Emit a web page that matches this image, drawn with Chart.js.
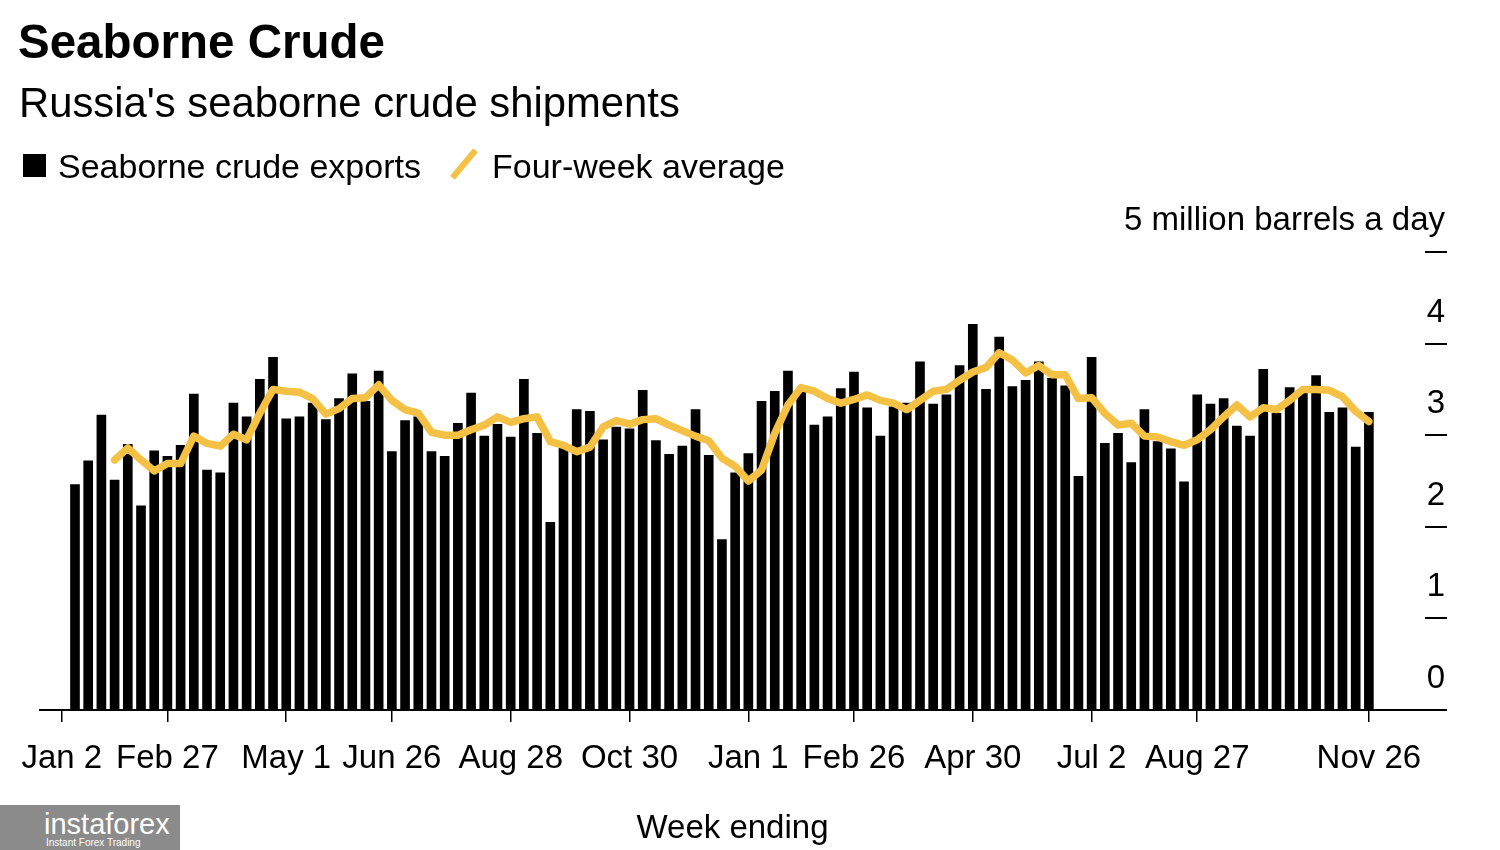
<!DOCTYPE html>
<html>
<head>
<meta charset="utf-8">
<title>Seaborne Crude</title>
<script src="https://cdn.jsdelivr.net/npm/chart.js@4.4.0/dist/chart.umd.min.js"></script>
<style>
    body { margin: 0; background: #fff; color: #000; font-family: "Liberation Sans", Arial, sans-serif; }
    #wrap { position: relative; width: 1500px; height: 850px; overflow: hidden; }
    #chart-box { position: absolute; left: 0; top: 0; width: 1500px; height: 850px; }
    .txt { position: absolute; line-height: 1; white-space: nowrap; }
    .title { left: 18px; top: 18px; font-size: 47.5px; font-weight: bold; }
    .subtitle { left: 19px; top: 82px; font-size: 41.8px; }
    .legend-text { top: 149px; font-size: 34px; }
    .swatch-bar { position: absolute; left: 23px; top: 154px; width: 23px; height: 23px; background: #000; }
    .swatch-line { position: absolute; left: 461px; top: 146px; width: 6px; height: 36px; background: #f4c144; transform: rotate(40deg); }
    .badge { position: absolute; left: 0; top: 805px; width: 180px; height: 45px; background: #8b8b8b; color: #fff; }
    .badge .big { position: absolute; left: 44px; top: 5px; font-size: 29px; line-height: 1; }
    .badge .small { position: absolute; left: 46px; top: 33px; font-size: 10px; line-height: 1; }
</style>
</head>
<body>
<div id="wrap">
    <div id="chart-box"><canvas id="myChart" width="1500" height="850"></canvas></div>
    <div class="txt title">Seaborne Crude</div>
    <div class="txt subtitle">Russia's seaborne crude shipments</div>
    <div class="swatch-bar"></div>
    <div class="txt legend-text" style="left:58px">Seaborne crude exports</div>
    <div class="swatch-line"></div>
    <div class="txt legend-text" style="left:492px">Four-week average</div>
    <div class="badge"><span class="big">instaforex</span><span class="small">Instant Forex Trading</span></div>
</div>
<script>
// x is the week number counted from the week ending Jan 2, 2022
const tickWeeks = [0, 8, 17, 25, 34, 43, 52, 60, 69, 78, 86, 99];
const tickLabels = ["Jan 2", "Feb 27", "May 1", "Jun 26", "Aug 28", "Oct 30",
    "Jan 1", "Feb 26", "Apr 30", "Jul 2", "Aug 27", "Nov 26"];

// seaborne crude exports, million barrels a day, weeks 1..99
const firstBarWeek = 1;
const exportsMbd = [
    2.46, 2.72, 3.22, 2.51, 2.90, 2.23, 2.83, 2.77, 2.89, 3.45,
    2.62, 2.59, 3.35, 3.20, 3.61, 3.85, 3.18, 3.20, 3.35, 3.17,
    3.40, 3.67, 3.37, 3.70, 2.82, 3.16, 3.20, 2.82, 2.77, 3.13,
    3.46, 2.99, 3.12, 2.98, 3.61, 3.02, 2.05, 2.86, 3.28, 3.26,
    2.95, 3.09, 3.07, 3.49, 2.94, 2.79, 2.88, 3.28, 2.78, 1.86,
    2.59, 2.80, 3.37, 3.48, 3.70, 3.50, 3.11, 3.20, 3.51, 3.69,
    3.30, 2.99, 3.31, 3.35, 3.80, 3.34, 3.44, 3.76, 4.21, 3.50,
    4.07, 3.53, 3.60, 3.80, 3.62, 3.54, 2.55, 3.85, 2.91, 3.02,
    2.70, 3.28, 2.93, 2.85, 2.49, 3.44, 3.34, 3.40, 3.10, 2.99,
    3.72, 3.24, 3.52, 3.49, 3.65, 3.25, 3.30, 2.87, 3.25
];

// four-week average, weeks 4..99
const firstAvgWeek = 4;
const fourWeekAvg = [
    2.73, 2.86, 2.73, 2.61, 2.69, 2.69, 2.99, 2.91, 2.88, 3.01,
    2.95, 3.24, 3.50, 3.48, 3.47, 3.40, 3.23, 3.29, 3.40, 3.41,
    3.55, 3.38, 3.28, 3.24, 3.03, 3.00, 3.00, 3.06, 3.11, 3.20,
    3.14, 3.18, 3.20, 2.93, 2.89, 2.82, 2.87, 3.09, 3.16, 3.12,
    3.17, 3.18, 3.11, 3.05, 2.99, 2.94, 2.75, 2.66, 2.50, 2.62,
    3.02, 3.33, 3.52, 3.48, 3.40, 3.35, 3.39, 3.44, 3.38, 3.35,
    3.28, 3.38, 3.48, 3.50, 3.60, 3.69, 3.74, 3.90, 3.82, 3.68,
    3.76, 3.66, 3.66, 3.40, 3.41, 3.24, 3.11, 3.13, 2.99, 2.98,
    2.93, 2.89, 2.95, 3.06, 3.20, 3.33, 3.20, 3.30, 3.28, 3.38,
    3.50, 3.50, 3.49, 3.42, 3.26, 3.15
];

const yTicks = [0, 1, 2, 3, 4, 5];
const yUnit = "million barrels a day";

const fontFamily = '"Liberation Sans", Arial, sans-serif';
const yellow = "#f4c144";

const barPoints = exportsMbd.map((v, i) => ({ x: firstBarWeek + i, y: v }));
const avgPoints = fourWeekAvg.map((v, i) => ({ x: firstAvgWeek + i, y: v }));

const chartConfig = new Chart(document.getElementById("myChart"), {
    type: "bar",
    data: {
        datasets: [
            {
                type: "line",
                label: "Four-week average",
                data: avgPoints,
                borderColor: yellow,
                borderWidth: 7.5,
                pointRadius: 0,
                tension: 0,
                borderJoinStyle: "round",
                borderCapStyle: "round",
                order: 0,
            },
            {
                label: "Seaborne crude exports",
                data: barPoints,
                backgroundColor: "#000",
                barThickness: 9,
                order: 1,
            },
        ],
    },
    options: {
        responsive: false,
        animation: false,
        layout: { padding: { left: 40, top: 252, right: 53, bottom: 0 } },
        plugins: {
            legend: { display: false },
            tooltip: { enabled: false },
        },
        scales: {
            x: {
                type: "linear",
                position: "bottom",
                min: -1.65,
                max: 103.25,
                offset: false,
                afterBuildTicks: function (scale) {
                    scale.ticks = tickWeeks.map((w) => ({ value: w }));
                },
                afterFit: function (scale) {
                    scale.height = 140;
                },
                ticks: {
                    autoSkip: false,
                    maxRotation: 0,
                    padding: 17,
                    color: "#000",
                    font: { family: fontFamily, size: 33 },
                    callback: function (value) {
                        return tickLabels[tickWeeks.indexOf(value)];
                    },
                },
                grid: {
                    offset: false,
                    drawOnChartArea: false,
                    drawTicks: true,
                    tickLength: 12,
                    color: "#000",
                    lineWidth: 1.5,
                },
                border: { display: true, color: "#000", width: 2 },
                title: {
                    display: true,
                    text: "Week ending",
                    color: "#000",
                    font: { family: fontFamily, size: 33 },
                    padding: { top: 0, bottom: 1 },
                },
            },
            y: {
                type: "linear",
                position: "right",
                min: 0,
                max: 5,
                afterBuildTicks: function (scale) {
                    scale.ticks = yTicks.map((v) => ({ value: v }));
                },
                afterFit: function (scale) {
                    scale.width = 22;
                },
                ticks: {
                    mirror: true,
                    autoSkip: false,
                    padding: 20,
                    labelOffset: -31,
                    color: "#000",
                    font: { family: fontFamily, size: 33 },
                    callback: function (value) {
                        return value === 5 ? "5 " + yUnit : String(value);
                    },
                },
                grid: {
                    drawOnChartArea: false,
                    drawTicks: true,
                    tickLength: 22,
                    color: "#000",
                    lineWidth: 2,
                },
                border: { display: false },
            },
        },
    },
});
</script>
</body>
</html>
